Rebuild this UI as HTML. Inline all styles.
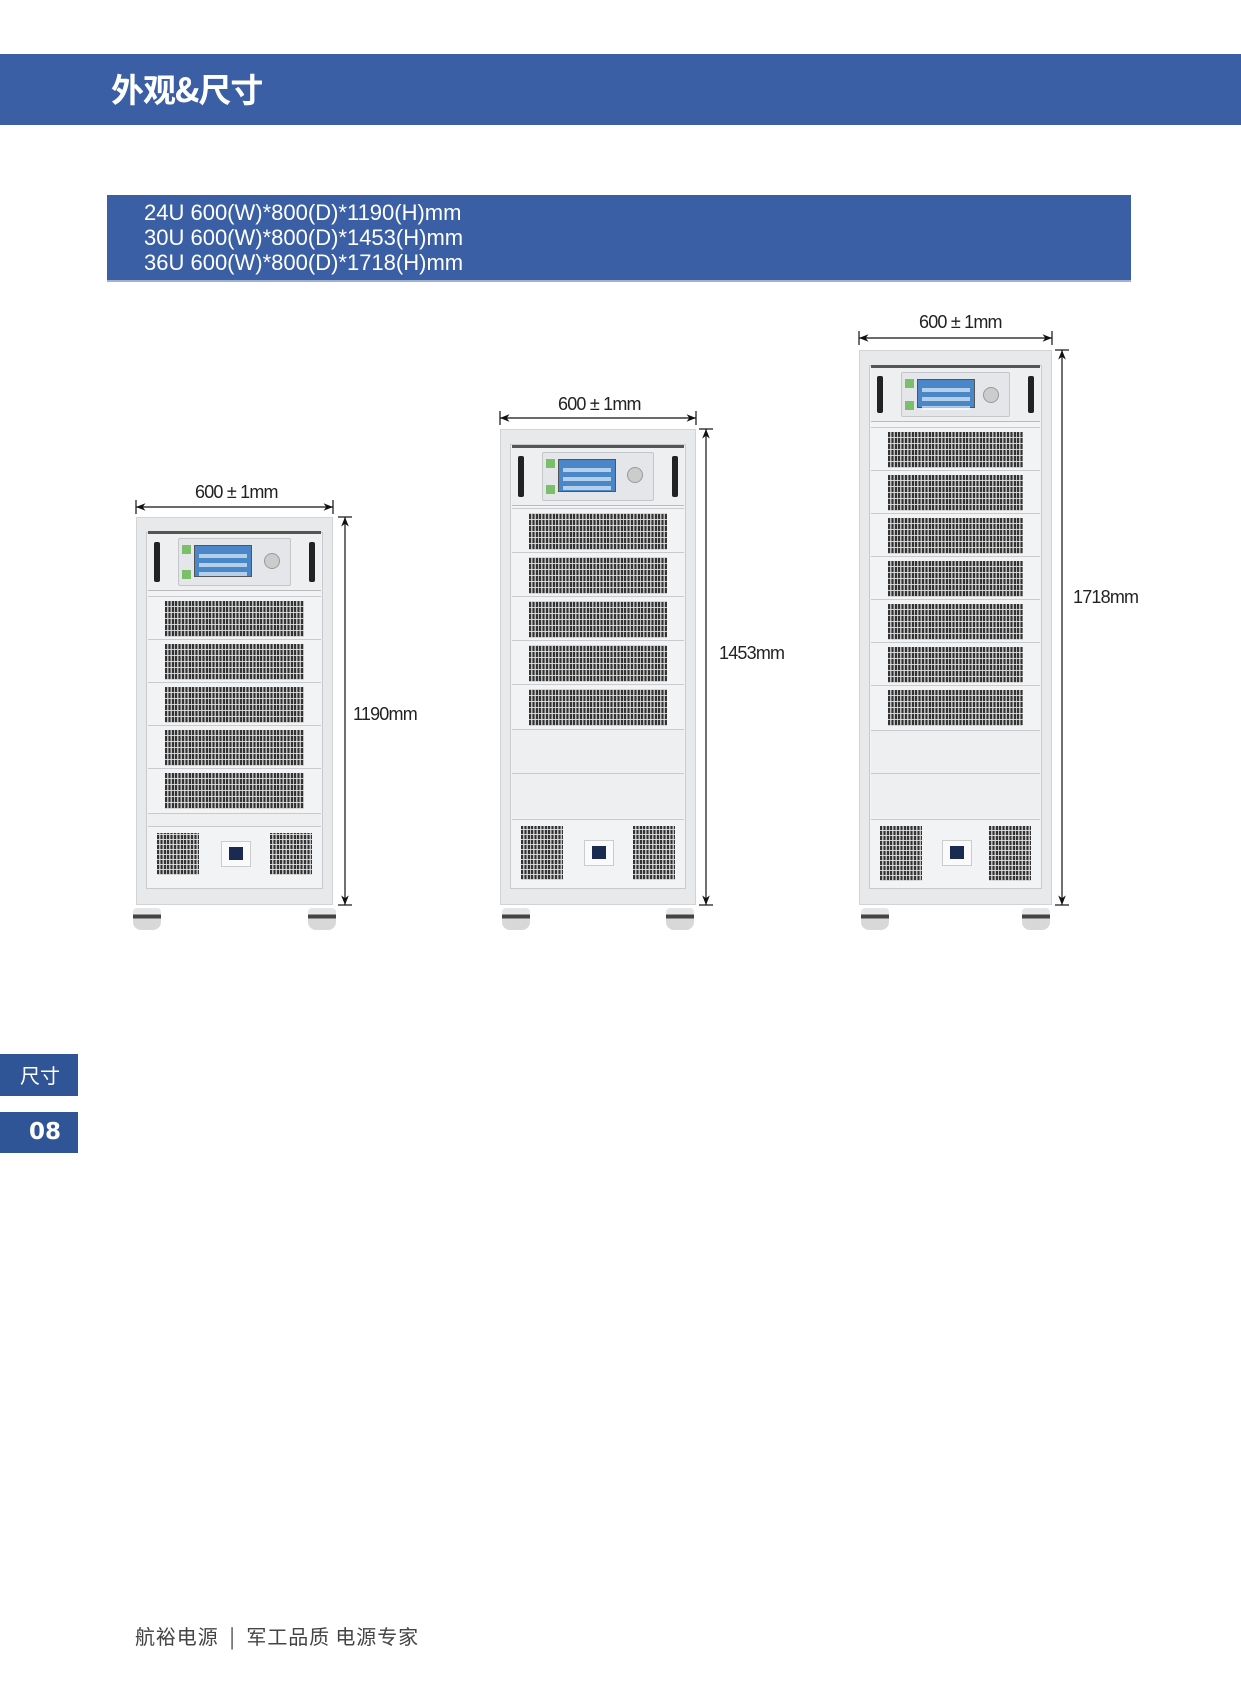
<!DOCTYPE html>
<html><head><meta charset="utf-8">
<style>
body{margin:0;background:#fff;}
#pg{position:relative;width:1241px;height:1684px;overflow:hidden;background:#fff;font-family:"Liberation Sans","Noto Sans CJK SC",sans-serif;}
.abs{position:absolute;}
.banner{left:0;top:54px;width:1241px;height:71px;background:#3a5fa5;}
.title{left:111px;top:64px;color:#fff;font-size:33px;font-weight:bold;font-family:"Noto Sans CJK SC","WenQuanYi Zen Hei",sans-serif;letter-spacing:-1px;}
.spec{left:107px;top:195px;width:1024px;height:87px;background:#3a5fa5;border-bottom:2px solid #9fb0d0;box-sizing:border-box;}
.spec div{position:absolute;left:37px;color:#fff;font-size:22px;letter-spacing:0px;line-height:24px;}
.tab{left:0;width:78px;height:36px;background:#2f5597;color:#fff;}
.dimt{font-size:18px;color:#222;letter-spacing:-0.8px;white-space:nowrap;}
.foot{left:135px;top:1621px;font-size:20px;color:#444;font-family:"Noto Sans CJK SC",sans-serif;letter-spacing:0.9px;white-space:pre;}
.cab{position:absolute;}
.fr{position:absolute;left:0;right:0;top:0;bottom:0;background:#e8e9eb;border:1px solid #d2d3d6;box-sizing:border-box;}
.in{position:absolute;left:10px;right:10px;top:15px;bottom:16px;background:#f2f3f4;border:1px solid #c9cacd;}
.rail{position:absolute;left:12px;right:12px;height:3px;background:#555;}
.ctl{position:absolute;left:12px;right:12px;background:#eeeff1;border-bottom:1px solid #bbb;}
.hdl{position:absolute;top:8px;width:6px;bottom:8px;background:#222;border-radius:2px;}
.pnl{position:absolute;left:30px;right:30px;top:4px;bottom:4px;background:#e4e6ea;border:1px solid #c4c6ca;border-radius:2px;}
.lcd{position:absolute;left:15px;width:56px;top:6px;bottom:8px;background:#4a87c9;border:1px solid #555;}
.lcd i{position:absolute;left:4px;right:4px;height:4px;background:#fff;opacity:.6;}
.gb{position:absolute;left:3px;width:9px;height:9px;background:#7cbf6a;}
.knob{position:absolute;right:10px;top:14px;width:14px;height:14px;border-radius:50%;background:#ccc;border:1px solid #999;}
.vent{position:absolute;left:12px;right:12px;border-top:1px solid #c9cacd;}
.gr{position:absolute;left:17px;right:17px;top:4px;bottom:3px;background:repeating-linear-gradient(0deg,rgba(225,225,225,.9) 0 1px,transparent 1px 6px),repeating-linear-gradient(90deg,#333 0 2px,#bdbdbd 2px 3.4px);}
.blank{position:absolute;left:12px;right:12px;border-top:1px solid #c9cacd;background:#eeeff0;}
.bot{position:absolute;left:12px;right:12px;border-top:1px solid #c9cacd;}
.bgr{position:absolute;top:6px;bottom:6px;width:42px;background:repeating-linear-gradient(0deg,rgba(225,225,225,.9) 0 1px,transparent 1px 5px),repeating-linear-gradient(90deg,#333 0 2px,#bdbdbd 2px 3.4px);}
.sw{position:absolute;left:50%;margin-left:-14px;top:14px;width:28px;height:24px;background:#fafafa;border:1px solid #ccc;}
.sw b{position:absolute;left:7px;top:5px;width:14px;height:13px;background:#1a2a50;}
.wh{position:absolute;width:28px;height:22px;bottom:-25px;background:linear-gradient(#e6e6e6 0 30%,#444 30% 48%,#d8d8d8 48%);border-radius:4px 4px 8px 8px;}
</style></head><body>
<div id="pg">
<div class="abs banner"></div>
<div class="abs title">外观&amp;尺寸</div>
<div class="abs spec">
<div style="top:6px">24U 600(W)*800(D)*1190(H)mm</div>
<div style="top:31px">30U 600(W)*800(D)*1453(H)mm</div>
<div style="top:56px">36U 600(W)*800(D)*1718(H)mm</div>
</div>

<!-- Cabinet 1 -->
<div class="cab" style="left:136px;top:517px;width:197px;height:388px;">
<div class="fr"></div><div class="in"></div>
<div class="rail" style="top:14px"></div>
<div class="ctl" style="top:17px;height:56px"><div class="hdl" style="left:6px"></div><div class="hdl" style="right:6px"></div>
<div class="pnl"><div class="gb" style="top:6px"></div><div class="gb" style="bottom:6px"></div><div class="lcd"><i style="top:8px"></i><i style="top:17px"></i><i style="top:26px"></i></div><div class="knob"></div></div></div>
<div class="vent" style="top:79px;height:43px"><div class="gr"></div></div>
<div class="vent" style="top:122px;height:43px"><div class="gr"></div></div>
<div class="vent" style="top:165px;height:43px"><div class="gr"></div></div>
<div class="vent" style="top:208px;height:43px"><div class="gr"></div></div>
<div class="vent" style="top:251px;height:43px"><div class="gr"></div></div>
<div class="blank" style="top:296px;height:12px"></div>
<div class="bot" style="top:309px;height:54px"><div class="bgr" style="left:9px"></div><div class="bgr" style="right:9px"></div><div class="sw"><b></b></div></div>
<div class="wh" style="left:-3px"></div><div class="wh" style="right:-3px"></div>
</div>

<!-- Cabinet 2 -->
<div class="cab" style="left:500px;top:429px;width:196px;height:476px;">
<div class="fr"></div><div class="in"></div>
<div class="rail" style="top:16px"></div>
<div class="ctl" style="top:19px;height:57px"><div class="hdl" style="left:6px"></div><div class="hdl" style="right:6px"></div>
<div class="pnl"><div class="gb" style="top:6px"></div><div class="gb" style="bottom:6px"></div><div class="lcd"><i style="top:8px"></i><i style="top:17px"></i><i style="top:26px"></i></div><div class="knob"></div></div></div>
<div class="vent" style="top:79px;height:44px"><div class="gr"></div></div>
<div class="vent" style="top:123px;height:44px"><div class="gr"></div></div>
<div class="vent" style="top:167px;height:44px"><div class="gr"></div></div>
<div class="vent" style="top:211px;height:44px"><div class="gr"></div></div>
<div class="vent" style="top:255px;height:44px"><div class="gr"></div></div>
<div class="blank" style="top:300px;height:44px"></div>
<div class="blank" style="top:344px;height:44px"></div>
<div class="bot" style="top:390px;height:66px"><div class="bgr" style="left:9px"></div><div class="bgr" style="right:9px"></div><div class="sw" style="top:20px"><b></b></div></div>
<div class="wh" style="left:2px"></div><div class="wh" style="right:2px"></div>
</div>

<!-- Cabinet 3 -->
<div class="cab" style="left:859px;top:350px;width:193px;height:555px;">
<div class="fr"></div><div class="in"></div>
<div class="rail" style="top:15px"></div>
<div class="ctl" style="top:18px;height:53px"><div class="hdl" style="left:6px"></div><div class="hdl" style="right:6px"></div>
<div class="pnl"><div class="gb" style="top:6px"></div><div class="gb" style="bottom:6px"></div><div class="lcd"><i style="top:8px"></i><i style="top:17px"></i><i style="top:26px"></i></div><div class="knob"></div></div></div>
<div class="vent" style="top:77px;height:43px"><div class="gr"></div></div>
<div class="vent" style="top:120px;height:43px"><div class="gr"></div></div>
<div class="vent" style="top:163px;height:43px"><div class="gr"></div></div>
<div class="vent" style="top:206px;height:43px"><div class="gr"></div></div>
<div class="vent" style="top:249px;height:43px"><div class="gr"></div></div>
<div class="vent" style="top:292px;height:43px"><div class="gr"></div></div>
<div class="vent" style="top:335px;height:43px"><div class="gr"></div></div>
<div class="blank" style="top:380px;height:43px"></div>
<div class="blank" style="top:423px;height:44px"></div>
<div class="bot" style="top:469px;height:67px"><div class="bgr" style="left:9px"></div><div class="bgr" style="right:9px"></div><div class="sw" style="top:20px"><b></b></div></div>
<div class="wh" style="left:2px"></div><div class="wh" style="right:2px"></div>
</div>

<svg class="abs" style="left:0;top:0" width="1241" height="1684">
<defs><marker id="a" viewBox="0 0 10 10" refX="10" refY="5" markerWidth="8" markerHeight="8" orient="auto-start-reverse"><path d="M0,1 L10,5 L0,9 L3,5 Z" fill="#111"/></marker></defs>
<g stroke="#111" stroke-width="1.2" fill="none">
<line x1="136" y1="507" x2="333" y2="507" marker-start="url(#a)" marker-end="url(#a)"/>
<line x1="136" y1="500" x2="136" y2="514"/><line x1="333" y1="500" x2="333" y2="514"/>
<line x1="500" y1="418" x2="696" y2="418" marker-start="url(#a)" marker-end="url(#a)"/>
<line x1="500" y1="411" x2="500" y2="425"/><line x1="696" y1="411" x2="696" y2="425"/>
<line x1="859" y1="338" x2="1052" y2="338" marker-start="url(#a)" marker-end="url(#a)"/>
<line x1="859" y1="331" x2="859" y2="345"/><line x1="1052" y1="331" x2="1052" y2="345"/>
<line x1="345" y1="517" x2="345" y2="905" marker-start="url(#a)" marker-end="url(#a)"/>
<line x1="338" y1="517" x2="352" y2="517"/><line x1="338" y1="905" x2="352" y2="905"/>
<line x1="706" y1="429" x2="706" y2="905" marker-start="url(#a)" marker-end="url(#a)"/>
<line x1="699" y1="429" x2="713" y2="429"/><line x1="699" y1="905" x2="713" y2="905"/>
<line x1="1062" y1="350" x2="1062" y2="905" marker-start="url(#a)" marker-end="url(#a)"/>
<line x1="1055" y1="350" x2="1069" y2="350"/><line x1="1055" y1="905" x2="1069" y2="905"/>
</g></svg>

<div class="abs dimt" style="left:195px;top:482px">600 ± 1mm</div>
<div class="abs dimt" style="left:558px;top:394px">600 ± 1mm</div>
<div class="abs dimt" style="left:919px;top:312px">600 ± 1mm</div>
<div class="abs dimt" style="left:353px;top:704px">1190mm</div>
<div class="abs dimt" style="left:719px;top:643px">1453mm</div>
<div class="abs dimt" style="left:1073px;top:587px">1718mm</div>

<div class="abs tab" style="top:1054px;height:42px"><span class="abs" style="left:20px;top:6px;font-size:20px;font-family:'Noto Sans CJK SC',sans-serif">尺寸</span></div>
<div class="abs tab" style="top:1112px;height:41px"><span class="abs" style="left:29px;top:7px;font-size:23px;font-weight:bold;font-family:'DejaVu Sans',sans-serif;letter-spacing:0px">08</span></div>

<div class="abs foot">航裕电源  |  军工品质 电源专家</div>
</div>
</body></html>
